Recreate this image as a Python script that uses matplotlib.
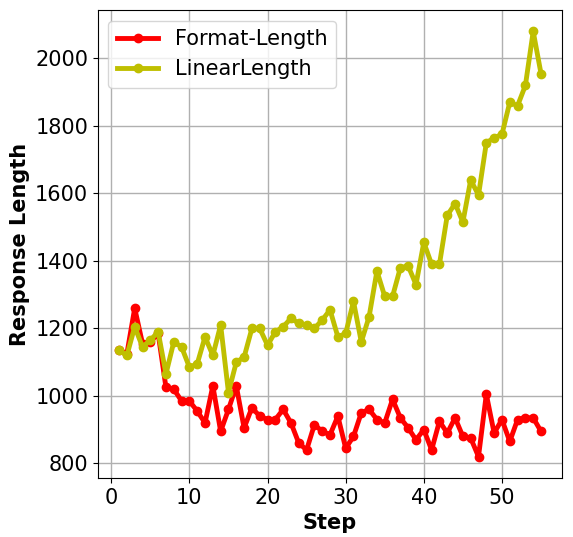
import matplotlib
matplotlib.use("Agg")
import matplotlib.pyplot as plt

steps = list(range(1, 56))
format_length = [1135, 1125, 1260, 1155, 1160, 1185, 1025, 1020, 985, 985,
                 955, 920, 1030, 895, 960, 1030, 905, 965, 940, 930,
                 930, 960, 920, 860, 840, 915, 895, 885, 940, 845,
                 880, 950, 960, 930, 920, 990, 935, 905, 870, 900,
                 840, 925, 890, 935, 880, 875, 820, 1005, 890, 930,
                 865, 930, 935, 935, 895]
linear_length = [1135, 1120, 1205, 1145, 1165, 1190, 1065, 1160, 1145, 1085,
                 1095, 1175, 1120, 1210, 1010, 1100, 1115, 1200, 1200, 1150,
                 1190, 1205, 1230, 1215, 1210, 1200, 1225, 1255, 1175, 1185,
                 1280, 1160, 1235, 1370, 1295, 1295, 1380, 1385, 1330, 1455,
                 1390, 1390, 1535, 1570, 1515, 1640, 1595, 1750, 1765, 1775,
                 1870, 1860, 1920, 2080, 1955]

fig, ax = plt.subplots(figsize=(5.73, 5.37), dpi=100)
ax.plot(steps, format_length, color="r", marker="o", linewidth=3.5, markersize=6, label="Format-Length")
ax.plot(steps, linear_length, color="y", marker="o", linewidth=3.5, markersize=6, label="LinearLength")

ax.set_xlabel("Step", fontsize=15, fontweight="bold")
ax.set_ylabel("Response Length", fontsize=15, fontweight="bold")
ax.tick_params(labelsize=15)
ax.grid(True, color="#b0b0b0", linewidth=1)
ax.legend(loc="upper left", fontsize=15)

fig.subplots_adjust(left=0.171, right=0.981, top=0.981, bottom=0.110)
fig.savefig("out.png", dpi=100)
